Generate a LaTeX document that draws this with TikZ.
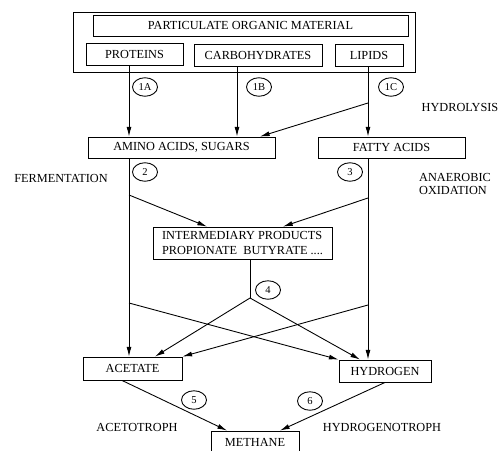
\documentclass[tikz,border=0pt]{standalone}
\usepackage{fontspec}
\setmainfont{Liberation Serif}
\usetikzlibrary{arrows.meta,shapes.geometric}
\begin{document}
\begin{tikzpicture}[x=0.02cm,y=-0.02cm,line width=0.5pt,
  box/.style 2 args={draw, inner sep=0pt, minimum width=#1*0.02cm, minimum height=#2*0.02cm, font=\fontsize{7}{8}\selectfont},
  num/.style={draw, ellipse, inner sep=0pt, minimum width=0.5cm, minimum height=0.37cm, font=\fontsize{6}{6}\selectfont},
  lbl/.style={font=\fontsize{7}{7.5}\selectfont},
  arr/.style={-{Latex[length=5.5pt,width=2.8pt]}}]
\useasboundingbox (0,0) rectangle (500,450);
\node[box={342}{60}] (organic) at (244,42){};
\node[box={315}{21}] (particulate) at (250.5,25.5){PARTICULATE ORGANIC MATERIAL};
\node[box={97}{22}] (proteins) at (134.5,54.5){PROTEINS};
\node[box={128}{22}] (carbo) at (258,55.5){CARBOHYDRATES};
\node[box={68}{22}] (lipids) at (369,55.5){LIPIDS};
\node[box={187}{21}] (amino) at (181.5,147.5){AMINO ACIDS, SUGARS};
\node[box={147}{21}] (fatty) at (391.5,147.5){FATTY ACIDS};
\node[box={179}{32}, align=left] (inter) at (242.5,243){INTERMEDIARY PRODUCTS\\PROPIONATE\ \ BUTYRATE ....};
\node[box={99}{23}] (acetate) at (132.5,368.5){ACETATE};
\node[box={92}{22}] (hydrogen) at (385,371){HYDROGEN};
\node[box={88}{23}] (methane) at (255,442.5){METHANE};
% step numbers
\node[num] (n1a) at (145,87){1A};
\node[num] (n1b) at (259,87){1B};
\node[num] (n1c) at (391,87){1C};
\node[num] (n2) at (145,172){2};
\node[num] (n3) at (350,172){3};
\node[num] (n4) at (268,290){4};
\node[num] (n5) at (194,400){5};
\node[num] (n6) at (310,401){6};
% process names
\node[lbl] (hydrolysis) at (460,107){HYDROLYSIS};
\node[lbl] (fermentation) at (61,178){FERMENTATION};
\node[lbl, align=left] (oxidation) at (455,184){ANAEROBIC\\OXIDATION};
\node[lbl] (acetotroph) at (137,427){ACETOTROPH};
\node[lbl] (hydrogenotroph) at (382,427){HYDROGENOTROPH};
% columns and branch points
\coordinate (left) at (129,0);
\coordinate (right) at (368,0);
\coordinate (mid) at (237,0);
\coordinate (join) at (260,0);
\coordinate (split1) at (368,103);
\coordinate (fermL) at (129,195);
\coordinate (fermR) at (368,198);
\coordinate (interL) at (207,0);
\coordinate (interR) at (283,0);
\coordinate (junc) at (250,298);
\coordinate (crossL) at (129,303);
\coordinate (crossR) at (368,305);
\coordinate (acetL) at (155,0);
\coordinate (hydrL) at (360,0);
\coordinate (acetB) at (122,0);
\coordinate (methL) at (227,0);
\coordinate (methR) at (280,0);
\draw[arr](proteins.south -| left) -- (amino.north -| left);
\draw[arr](carbo.south -| mid) -- (amino.north -| mid);
\draw[arr](lipids.south -| right) -- (fatty.north -| right);
\draw[arr](split1) -- (amino.north -| join);
\draw[arr](amino.south -| left) -- (acetate.north -| left);
\draw[arr](fatty.south -| right) -- (hydrogen.north -| right);
\draw[arr](fermL) -- (inter.north -| interL);
\draw[arr](fermR) -- (inter.north -| interR);
\draw[](inter.south -| junc) -- (junc);
\draw[arr](junc) -- (acetate.north -| acetL);
\draw[arr](junc) -- (hydrogen.north -| hydrL);
\draw[arr](crossL) -- (hydrogen.north west);
\draw[arr](crossR) -- (acetate.north east);
\draw[arr](acetate.south -| acetB) -- (methane.north -| methL);
\draw[arr](hydrogen.south) -- (methane.north -| methR);

\end{tikzpicture}
\end{document}
